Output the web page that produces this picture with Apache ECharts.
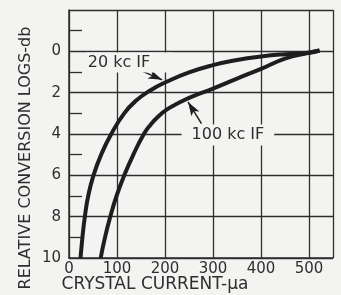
<!DOCTYPE html>
<html>
<head>
<meta charset="utf-8">
<script src="https://cdn.jsdelivr.net/npm/echarts@6/dist/echarts.min.js"></script>
<style>
  html, body { margin: 0; padding: 0; background: #f3f3f1; }
  #main { width: 341px; height: 295px; }
</style>
</head>
<body>
<div id="main"></div>
<script>
// crystal current (microamps) vs relative conversion loss (db)
const current20 = [24, 28, 33, 40, 51, 67, 88, 115, 140, 170, 200, 250, 300, 350, 400, 450, 500, 522];
const loss20 = [10, 9, 8, 7, 6, 5, 4, 3, 2.38, 1.88, 1.51, 1.02, 0.67, 0.42, 0.25, 0.14, 0.07, -0.04];
const current100 = [66, 75, 86, 99, 115, 134, 156, 170, 186, 205, 228, 255, 300, 350, 400, 450, 500, 522];
const loss100 = [10, 9, 8, 7, 6, 5, 4, 3.55, 3.15, 2.8, 2.5, 2.2, 1.8, 1.32, 0.85, 0.35, 0.07, -0.04];

const yTickLabels = [0, 2, 4, 6, 8, 10];
const xTickLabels = [0, 100, 200, 300, 400, 500];

const ink = '#2e2e2e';
const paper = '#f3f3f1';

function pairs(xs, ys) {
  return xs.map(function (x, i) { return [x, ys[i]]; });
}

const chart = echarts.init(document.getElementById('main'), null, { renderer: 'canvas' });

var option = {
  backgroundColor: paper,
  animation: false,
  grid: {
    left: 69,
    right: 8,
    top: 10,
    bottom: 37,
    outerBoundsMode: 'none'
  },
  xAxis: {
    type: 'value',
    min: 0,
    max: 550,
    interval: 100,
    name: 'CRYSTAL CURRENT-μa',
    nameLocation: 'middle',
    nameGap: 18,
    nameMoveOverlap: false,
    nameTextStyle: {
      color: ink,
      fontFamily: 'DejaVu Sans',
      fontSize: 17,
      padding: [0, 92, 0, 0]
    },
    axisLine: { onZero: false, lineStyle: { color: ink, width: 1.5 } },
    axisTick: { show: false },
    axisLabel: {
      color: ink,
      fontFamily: 'DejaVu Sans',
      fontSize: 15,
      margin: 4,
      formatter: function (v) { return xTickLabels.indexOf(v) >= 0 ? String(v) : ''; }
    },
    splitLine: { show: true, lineStyle: { color: ink, width: 1.3 } }
  },
  yAxis: {
    type: 'value',
    inverse: true,
    min: -2,
    max: 10,
    interval: 2,
    name: 'RELATIVE CONVERSION LOGS-db',
    nameLocation: 'middle',
    nameGap: 35,
    nameMoveOverlap: false,
    nameTextStyle: {
      color: ink,
      fontFamily: 'DejaVu Sans',
      fontSize: 16,
      padding: [0, 48, 0, 0]
    },
    axisLine: { show: true, lineStyle: { color: ink, width: 1.5 } },
    axisTick: { show: false, inside: true, length: 13 },
    minorTick: { show: true, splitNumber: 2, length: 13, lineStyle: { color: ink, width: 1.3 } },
    axisLabel: {
      color: ink,
      fontFamily: 'DejaVu Sans',
      fontSize: 15,
      margin: 8,
      formatter: function (v) { return yTickLabels.indexOf(v) >= 0 ? String(v) : ''; }
    },
    splitLine: { show: true, lineStyle: { color: ink, width: 1.3 } }
  },
  series: [{
    name: '20 kc IF',
    type: 'line',
    smooth: 0.5,
    symbol: 'none',
    lineStyle: { color: '#1e1e1e', width: 4 },
    data: pairs(current20, loss20),
    markPoint: {
      symbol: 'rect',
      symbolSize: 0,
      label: {
        show: true,
        formatter: '20 kc IF',
        color: ink,
        fontFamily: 'DejaVu Sans',
        fontSize: 16,
        backgroundColor: paper,
        padding: [2, 22, 2, 2]
      },
      data: [{ coord: [125, 0.54] }]
    },
    markLine: {
      silent: true,
      symbol: ['none', 'arrow'],
      symbolSize: [7, 14],
      label: { show: false },
      lineStyle: { color: '#1e1e1e', width: 1.5, type: 'solid' },
      data: [[{ coord: [137, 0.8] }, { coord: [194, 1.38] }]]
    }
  }, {
    name: '100 kc IF',
    type: 'line',
    smooth: 0.5,
    symbol: 'none',
    lineStyle: { color: '#1e1e1e', width: 4 },
    data: pairs(current100, loss100),
    markPoint: {
      symbol: 'rect',
      symbolSize: 0,
      label: {
        show: true,
        formatter: '100 kc IF',
        color: ink,
        fontFamily: 'DejaVu Sans',
        fontSize: 16,
        backgroundColor: paper,
        padding: [3, 10, 2, 10]
      },
      data: [{ coord: [331, 4.05] }]
    },
    markLine: {
      silent: true,
      symbol: ['none', 'arrow'],
      symbolSize: [7, 14],
      label: { show: false },
      lineStyle: { color: '#1e1e1e', width: 1.5, type: 'solid' },
      data: [[{ coord: [276, 3.5] }, { coord: [248, 2.45] }]]
    }
  }]
};

chart.setOption(option);
</script>
</body>
</html>
